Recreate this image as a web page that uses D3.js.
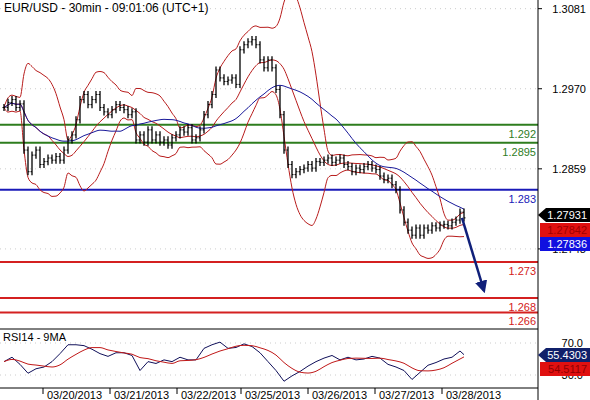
<!DOCTYPE html>
<html><head><meta charset="utf-8">
<script src="https://cdn.jsdelivr.net/npm/d3@7"></script>
<style>body{margin:0;background:#fff}text{font-family:"Liberation Sans",Arial,sans-serif}</style>
</head><body><svg id="c" width="590" height="400"></svg>
<script>
// closes, one sample every ~2 bars
const closes = [1.2944,1.2951,1.2955,1.2944,1.2949,1.2885,1.2855,1.2878,1.2885,1.2865,1.2869,1.2874,1.2871,1.2876,1.2871,1.2885,1.2899,1.2906,1.2927,1.2955,
1.2962,1.2948,1.2955,1.2962,1.2944,1.2938,1.2934,1.2941,1.2948,1.2944,1.2941,1.2934,1.2938,1.2899,1.2906,1.2896,1.2913,1.2899,1.2906,1.2896,
1.2899,1.2892,1.2902,1.2906,1.2913,1.2910,1.2916,1.2899,1.2902,1.2913,1.2934,1.2948,1.2962,1.2996,1.2985,1.2980,1.2982,1.2985,1.2976,1.3024,
1.3031,1.3035,1.3038,1.3031,1.3010,1.2999,1.3010,1.2999,1.2969,1.2934,1.2885,1.2865,1.2851,1.2855,1.2858,1.2860,1.2865,1.2860,1.2869,1.2868,
1.2871,1.2874,1.2868,1.2871,1.2874,1.2865,1.2862,1.2855,1.2860,1.2858,1.2862,1.2865,1.2860,1.2858,1.2849,1.2844,1.2846,1.2837,1.2830,1.2802,
1.2785,1.2774,1.2767,1.2777,1.2767,1.2777,1.2774,1.2780,1.2777,1.2781,1.2782,1.2780,1.2785,1.2788,1.2799,1.2791];
// rsi, one value every 2 samples, last one at the end
const rsi = [46.7,52.2,43.3,32.2,37.8,40,46.7,56.7,67.8,67.8,66.7,62.2,56.7,53.3,57.8,57.8,54.4,35.6,46.7,44.4,
48.9,46.7,52.2,48.9,48.9,63.3,67.8,71.1,63.3,64.4,68.9,65.6,57.8,46.7,35.6,22.2,28.9,34.4,41.1,46.7,
51.1,54.4,48.9,52.2,48.9,50,53.3,51.1,43.3,40,35.6,24.4,33.3,42.2,45.6,50,52.2,60,55.4];
const priceTicks = [1.3081,1.2970,1.2859,1.2748];
const greenLevels = [1.292,1.2895], blueLevels = [1.283], redLevels = [1.273,1.268,1.266];
const dates = ["03/20/2013","03/21/2013","03/22/2013","03/25/2013","03/26/2013","03/27/2013","03/28/2013"];
const datePos = [9.75,26.5,43.25,59.25,76,92.75,109.5];

const svg = d3.select("#c");
const W = 538;
const x = d3.scaleLinear().domain([0, closes.length - 1]).range([4, 464]);
const y = d3.scaleLinear().domain([1.2637, 1.3093]).range([329, 0]);
const yr = d3.scaleLinear().domain([30, 70]).range([375, 343]);

function sma(a, n) { return a.map((v, i) => d3.mean(a.slice(Math.max(0, i - n + 1), i + 1))); }
function sd(a, n) { return a.map((v, i) => d3.deviation(a.slice(Math.max(0, i - n + 1), i + 1)) || 0); }

// grid
svg.selectAll(".g").data(priceTicks).enter().append("line")
  .attr("x1", 0).attr("x2", W).attr("y1", d => y(d)).attr("y2", d => y(d))
  .attr("stroke", "#ccc").attr("stroke-dasharray", "1,4");
svg.selectAll(".gr").data([70, 30]).enter().append("line")
  .attr("x1", 0).attr("x2", W).attr("y1", d => yr(d)).attr("y2", d => yr(d))
  .attr("stroke", "#ccc").attr("stroke-dasharray", "1,4");

// levels
function levels(arr, col) {
  arr.forEach(v => {
    svg.append("line").attr("x1", 0).attr("x2", W).attr("y1", y(v)).attr("y2", y(v))
      .attr("stroke", col).attr("stroke-width", 2);
    svg.append("text").attr("x", 536).attr("y", y(v) + 13).attr("text-anchor", "end")
      .attr("font-size", 11).attr("fill", col).text(v);
  });
}
levels(greenLevels, "#2e7d1e");
levels(blueLevels, "#1a1ab8");
levels(redLevels, "#d42020");

// bollinger + ma
const mid = sma(closes, 12), dev = sd(closes, 12), ma = sma(closes, 25);
const line = d3.line().x((d, i) => x(i)).y(d => y(d)).curve(d3.curveMonotoneX);
svg.append("path").attr("d", line(mid.map((m, i) => m + 2 * dev[i]))).attr("fill", "none").attr("stroke", "#b81c1c");
svg.append("path").attr("d", line(mid.map((m, i) => m - 2 * dev[i]))).attr("fill", "none").attr("stroke", "#b81c1c");
svg.append("path").attr("d", line(mid)).attr("fill", "none").attr("stroke", "#b81c1c");
svg.append("path").attr("d", line(ma)).attr("fill", "none").attr("stroke", "#1a1a9a");

// bars
closes.forEach((c, i) => {
  const p = i ? closes[i - 1] : c;
  const hi = Math.max(c, p) + 0.0005, lo = Math.min(c, p) - 0.0005;
  svg.append("line").attr("x1", x(i)).attr("x2", x(i)).attr("y1", y(hi)).attr("y2", y(lo))
    .attr("stroke", "#000").attr("stroke-width", 1.3);
  svg.append("line").attr("x1", x(i) - 1.5).attr("x2", x(i)).attr("y1", y(p)).attr("y2", y(p))
    .attr("stroke", "#000").attr("stroke-width", 1);
  svg.append("line").attr("x1", x(i)).attr("x2", x(i) + 1.5).attr("y1", y(c)).attr("y2", y(c))
    .attr("stroke", "#000").attr("stroke-width", 1);
});

// arrow
svg.append("defs").append("marker").attr("id", "ah").attr("viewBox", "0 0 10 10")
  .attr("refX", 8).attr("refY", 5).attr("markerWidth", 5).attr("markerHeight", 5).attr("orient", "auto")
  .append("path").attr("d", "M0,0L10,5L0,10z").attr("fill", "#10207a");
svg.append("line").attr("x1", x(114.5)).attr("y1", y(1.2791)).attr("x2", 484).attr("y2", y(1.2690))
  .attr("stroke", "#10207a").attr("stroke-width", 2.5).attr("marker-end", "url(#ah)");

// rsi
const xi = (d, i) => x(Math.min(i * 2, closes.length - 1));
svg.append("path").attr("d", d3.line().x(xi).y(d => yr(d))(rsi)).attr("fill", "none").attr("stroke", "#10105a");
svg.append("path").attr("d", d3.line().x(xi).y(d => yr(d)).curve(d3.curveMonotoneX)(sma(rsi, 5)))
  .attr("fill", "none").attr("stroke", "#c01818");

// frames
svg.append("line").attr("x1", W).attr("x2", W).attr("y1", 0).attr("y2", 400).attr("stroke", "#000");
[329, 388].forEach(v => svg.append("line").attr("x1", 0).attr("x2", W).attr("y1", v).attr("y2", v).attr("stroke", "#000"));

// axis labels
svg.selectAll(".pt").data(priceTicks).enter().append("text")
  .attr("x", 586).attr("y", d => y(d) + 4).attr("text-anchor", "end").attr("font-size", 11).text(d => d.toFixed(4));
svg.selectAll(".pk").data(priceTicks).enter().append("line")
  .attr("x1", W).attr("x2", W + 4).attr("y1", d => y(d)).attr("y2", d => y(d)).attr("stroke", "#000");
svg.selectAll(".rt").data([70, 30]).enter().append("text")
  .attr("x", 583).attr("y", d => yr(d) + 4).attr("text-anchor", "end").attr("font-size", 11).text(d => d.toFixed(1));

function tag(v, yy, bg, fg, pointer) {
  const g = svg.append("g");
  g.append("path").attr("d", pointer ? `M${W},${yy}L${W + 8},${yy - 7}H590V${yy + 7}H${W + 8}Z` : `M${W + 2},${yy - 7}H590V${yy + 7}H${W + 2}Z`)
    .attr("fill", bg);
  g.append("text").attr("x", 587).attr("y", yy + 4).attr("text-anchor", "end").attr("font-size", 11).attr("fill", fg).text(v);
}
tag("1.27931", 215, "#000", "#fff", true);
tag("1.27842", 230, "#e01010", "#a00000", false);
tag("1.27836", 244, "#1010e0", "#fff", false);
tag("55.4303", 355, "#10206a", "#fff", true);
tag("54.5117", 369, "#e01010", "#900000", false);

// dates
datePos.forEach((p, i) => {
  svg.append("line").attr("x1", x(p)).attr("x2", x(p)).attr("y1", 388).attr("y2", 394).attr("stroke", "#000");
  svg.append("text").attr("x", x(p) + 4).attr("y", 399).attr("font-size", 11).text(dates[i]);
});

svg.append("text").attr("x", 4).attr("y", 12).attr("font-size", 12).text("EUR/USD - 30min - 09:01:06 (UTC+1)");
svg.append("text").attr("x", 3).attr("y", 341).attr("font-size", 11).text("RSI14 - 9MA");
</script></body></html>
